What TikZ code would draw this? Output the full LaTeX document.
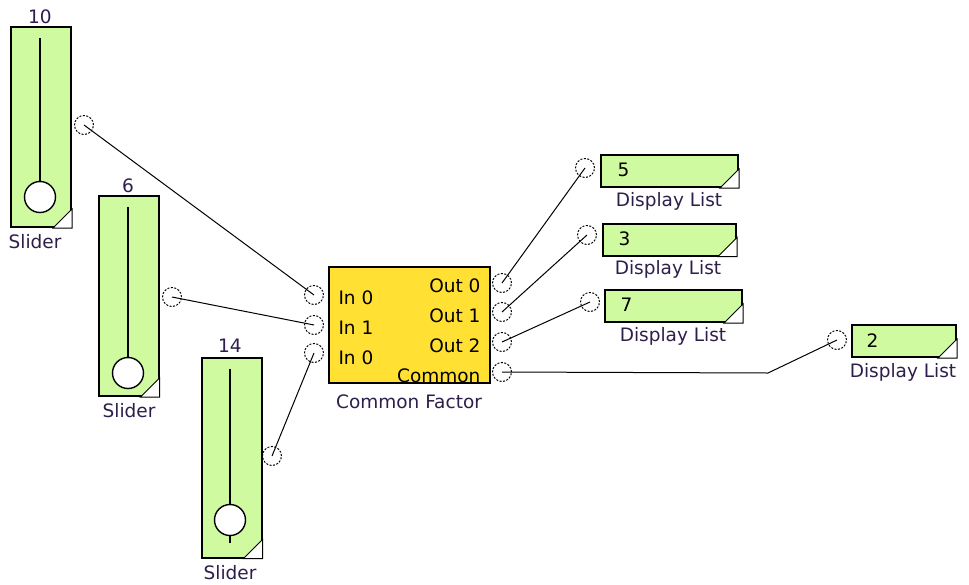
\documentclass[tikz,border=0pt]{standalone}
\usepackage{fontspec}
\setmainfont{DejaVu Sans}
\usetikzlibrary{positioning}
\definecolor{slgreen}{RGB}{208,250,160}
\definecolor{cfyellow}{RGB}{255,224,51}
\definecolor{lblcol}{RGB}{45,30,75}

\begin{document}
\begin{tikzpicture}[x=1pt, y=-1pt, font=\fontsize{18.5}{20}\selectfont,
  block/.style={draw, line width=2pt, inner sep=0pt},
  slider/.style={block, fill=slgreen, minimum width=60pt, minimum height=200pt},
  display/.style={block, fill=slgreen, minimum height=32pt},
  port/.style={circle, draw, dash pattern=on 2pt off 1.5pt, line width=1pt, minimum size=19pt, inner sep=0pt},
  knob/.style={circle, draw, line width=1.4pt, fill=white, minimum size=31pt, inner sep=0pt},
  wire/.style={line width=1pt},
  lbl/.style={text=lblcol}]
  \useasboundingbox (0,0) rectangle (969,584);

  % sliders
  \node[slider] (sA) at (41,127) {};
  \node[slider] (sB) at (128.5,296) {};
  \node[slider] (sC) at (231.5,457.5) {};
  \foreach \s/\x/\ya/\yb/\yk in {sA/40/38/210/197, sB/128/207/385/373, sC/230/369/543/520} {
    \draw[line width=1.5pt] (\x,\ya) -- (\x,\yb);
    \node[knob] at (\x,\yk) {};
    \draw[line width=1pt, fill=white] (\s.south east) -- ++(-19,0) -- ++(19,-19) -- cycle;
  }
  \node[lbl] (sAval) at (40,17) {10};
  \node[lbl] (sBval) at (128,186) {6};
  \node[lbl] (sCval) at (230,346) {14};
  \node[lbl] (sAlbl) at (35,242) {Slider};
  \node[lbl] (sBlbl) at (129,411) {Slider};
  \node[lbl] (sClbl) at (230,573) {Slider};
  \node[port] (pA) at (84,125) {};
  \node[port] (pB) at (172,297) {};
  \node[port] (pC) at (272,456) {};

  % common factor block
  \node[block, fill=cfyellow, minimum width=161pt, minimum height=116pt] (cf) at (409.5,325) {};
  \node[anchor=west] at (335,298) {In 0};
  \node[anchor=west] at (335,328) {In 1};
  \node[anchor=west] at (335,358) {In 0};
  \node[anchor=east] at (484,286) {Out 0};
  \node[anchor=east] at (484,316) {Out 1};
  \node[anchor=east] at (484,346) {Out 2};
  \node[anchor=east] at (484,376) {Common};
  \node[lbl] (cflbl) at (409,402) {Common Factor};
  \node[port] (cfIn0) at (314,295) {};
  \node[port] (cfIn1) at (314,325) {};
  \node[port] (cfIn2) at (314,353) {};
  \node[port] (cfOut0) at (502,283) {};
  \node[port] (cfOut1) at (502,312) {};
  \node[port] (cfOut2) at (502,342) {};
  \node[port] (cfCom) at (502,372) {};

  % display lists
  \node[display, minimum width=137pt] (dA) at (669.5,171) {};
  \node[display, minimum width=133pt] (dB) at (669.5,239.5) {};
  \node[display, minimum width=137pt] (dC) at (673.5,306) {};
  \node[display, minimum width=104pt] (dD) at (904,341) {};
  \foreach \d in {dA,dB,dC,dD}
    \draw[line width=1pt, fill=white] (\d.south east) -- ++(-19,0) -- ++(19,-19) -- cycle;
  \node[anchor=west] at (614,170) {5};
  \node[anchor=west] at (615,239) {3};
  \node[anchor=west] at (617,305) {7};
  \node[anchor=west] at (863,341) {2};
  \node[lbl] (dAlbl) at (669,201) {Display List};
  \node[lbl] (dBlbl) at (668,269) {Display List};
  \node[lbl] (dClbl) at (673,336) {Display List};
  \node[lbl] (dDlbl) at (903,372) {Display List};
  \node[port] (pdA) at (585,168) {};
  \node[port] (pdB) at (587,235) {};
  \node[port] (pdC) at (590,302) {};
  \node[port] (pdD) at (837,340) {};
  \coordinate (bend) at (768,373);

  % wires
  \draw[wire] (pA.center) -- (cfIn0.center);
  \draw[wire] (pB.center) -- (cfIn1.center);
  \draw[wire] (pC.center) -- (cfIn2.center);
  \draw[wire] (cfOut0.center) -- (pdA.center);
  \draw[wire] (cfOut1.center) -- (pdB.center);
  \draw[wire] (cfOut2.center) -- (pdC.center);
  \draw[wire] (cfCom.center) -- (bend) -- (pdD.center);
\end{tikzpicture}
\end{document}
